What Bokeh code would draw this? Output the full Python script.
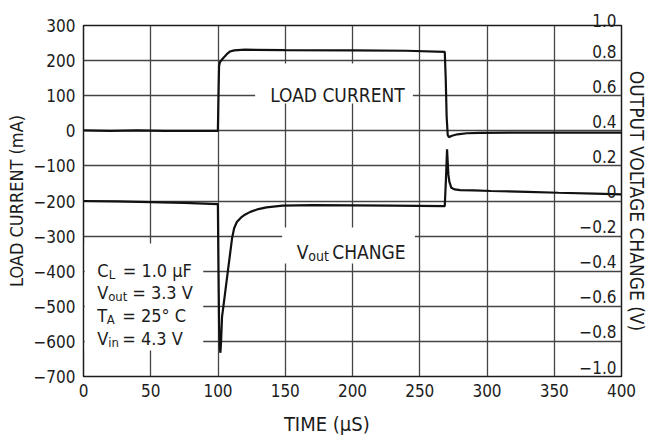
from bokeh.plotting import figure
from bokeh.models import (Range1d, FixedTicker, ColumnDataSource, LabelSet, Label,
                          BoxAnnotation, LinearAxis)
from bokeh.core.properties import value
from bokeh.embed import file_html
from bokeh.resources import INLINE

FONT = "DejaVu Sans Condensed"
INK = "#1c1c1c"

# ---- axes / ticks ----
x_ticks = [0, 50, 100, 150, 200, 250, 300, 350, 400]
y_ticks = [300, 200, 100, 0, -100, -200, -300, -400, -500, -600, -700]
y_tick_labels = ["300", "200", "100", "0", "\u2212100", "\u2212200", "\u2212300",
                 "\u2212400", "\u2212500", "\u2212600", "\u2212700"]
v_ticks = [1.0, 0.8, 0.6, 0.4, 0.2, 0.0, -0.2, -0.4, -0.6, -0.8, -1.0]
v_tick_labels = ["1.0", "0.8", "0.6", "0.4", "0.2", "0", "\u22120.2", "\u22120.4",
                 "\u22120.6", "\u22120.8", "\u22121.0"]

# ---- load current trace (time in us, current in mA) ----
load_t = [0, 20, 40, 60, 80, 99.9, 100.3, 100.8, 101.5, 103, 105, 107, 109, 112, 120,
          150, 200, 240, 268.6, 269.3, 270.0, 270.8, 271.6, 274, 278, 285, 295, 320, 360, 400]
load_ma = [1, 0, 1, 0, 0, 0, 90, 185, 196, 203, 212, 220, 226, 229, 231,
           230, 229, 228, 225, 150, 40, -12, -18, -14, -10, -7, -6, -5, -5, -5]

# ---- output voltage change trace (time in us, volts) ----
vout_t = [0, 25, 50, 75, 99.9, 100.3, 100.8, 101.3, 101.8, 102.3, 103, 105, 107, 109,
          110.5, 112, 114, 117, 120, 124, 130, 136, 148, 170, 200, 230, 268.6, 269.5,
          270.3, 270.8, 271.3, 272, 273.5, 276, 280, 290, 303, 330, 353, 380, 400]
vout_v = [0.0, -0.002, -0.006, -0.011, -0.018, -0.35, -0.7, -0.83, -0.865, -0.8, -0.66,
          -0.54, -0.42, -0.3, -0.21, -0.155, -0.12, -0.095, -0.078, -0.062, -0.046,
          -0.036, -0.026, -0.024, -0.025, -0.026, -0.029, 0.13, 0.295, 0.22, 0.15, 0.11,
          0.075, 0.066, 0.062, 0.06, 0.057, 0.052, 0.047, 0.042, 0.038]

p = figure(width=650, height=445, x_range=Range1d(0, 400), y_range=Range1d(-700, 300),
           output_backend="svg", toolbar_location=None,
           min_border_left=83, min_border_right=28, min_border_top=25, min_border_bottom=69)
p.extra_y_ranges = {"v": Range1d(-1.0, 1.0)}
p.background_fill_color = "white"
p.border_fill_color = "white"
p.outline_line_color = INK
p.outline_line_width = 1.5

# top-right "1.0" label sits above the frame: use the plot title slot
p.title.text = v_tick_labels[0]
p.title.align = "right"
p.title.offset = 5
p.title.standoff = -3
p.title.text_font = FONT
p.title.text_font_size = "17px"
p.title.text_font_style = "normal"
p.title.text_color = INK

# grids
p.xgrid.ticker = FixedTicker(ticks=x_ticks)
p.ygrid.ticker = FixedTicker(ticks=y_ticks)
for g in (p.xgrid, p.ygrid):
    g.grid_line_color = "#444444"
    g.grid_line_width = 1.3

# axes
for ax in (p.xaxis, p.yaxis):
    ax.axis_line_color = None
    ax.major_tick_out = 0
    ax.major_tick_in = 0
    ax.minor_tick_out = 0
    ax.minor_tick_in = 0
    ax.major_label_text_font = FONT
    ax.major_label_text_font_size = "17px"
    ax.major_label_text_color = INK
    ax.axis_label_text_font = FONT
    ax.axis_label_text_font_style = "normal"
    ax.axis_label_text_color = INK
p.xaxis.ticker = FixedTicker(ticks=x_ticks)
p.xaxis.major_label_standoff = 7
# the original's x title sits left of the frame centre: pad with no-break spaces
p.xaxis.axis_label = "TIME (\u00b5S)" + "\u00a0" * 9
p.xaxis.axis_label_text_font_size = "20px"
p.xaxis.axis_label_standoff = 12
p.yaxis.ticker = FixedTicker(ticks=y_ticks)
p.yaxis.major_label_overrides = dict(zip(y_ticks, y_tick_labels))
p.yaxis.major_label_standoff = 8
p.yaxis.axis_label = "LOAD CURRENT (mA)"
p.yaxis.axis_label_text_font_size = "18px"
p.yaxis.axis_label_standoff = 3

# right axis: title only (tick labels are drawn inside the frame)
raxis = LinearAxis(y_range_name="v", ticker=FixedTicker(ticks=[]),
                   axis_label="OUTPUT VOLTAGE CHANGE (V)")
raxis.axis_line_color = None
raxis.major_tick_out = 0
raxis.minor_tick_out = 0
raxis.axis_label_text_font = FONT
raxis.axis_label_text_font_size = "19px"
raxis.axis_label_text_font_style = "normal"
raxis.axis_label_text_color = INK
raxis.axis_label_standoff = 4
p.add_layout(raxis, "right")

# white boxes behind in-plot labels
p.add_layout(BoxAnnotation(left=127.6, right=244.9, top=191.7, bottom=77.8,
                           fill_color="white", fill_alpha=1.0, line_color=None))
p.add_layout(BoxAnnotation(left=147.7, right=246.4, top=-275.5, bottom=-378,
                           fill_color="white", fill_alpha=1.0, line_color=None))
p.add_layout(BoxAnnotation(left=0.9, right=89, top=-321, bottom=-626,
                           fill_color="white", fill_alpha=1.0, line_color=None))

# traces
p.line(load_t, load_ma, line_color="#111111", line_width=2.2)
p.line(vout_t, vout_v, y_range_name="v", line_color="#111111", line_width=2.2)

# right-hand tick labels (inside the frame, just above each gridline)
rsrc = ColumnDataSource(dict(x=[x_ticks[-1]] * (len(v_ticks) - 1), y=v_ticks[1:],
                             text=v_tick_labels[1:]))
p.add_layout(LabelSet(x="x", y="y", text="text", source=rsrc, y_range_name="v",
                      text_align="right", text_baseline="alphabetic",
                      x_offset=-5, y_offset=3, text_font=value(FONT),
                      text_font_size=value("17px"), text_color=INK))


def lab(x, y, text, size, dx=0, dy=0):
    p.add_layout(Label(x=x, y=y, text=text, x_offset=dx, y_offset=dy,
                       text_font=FONT, text_font_size=size, text_color=INK,
                       text_align="left", text_baseline="alphabetic"))


# in-plot annotations
lab(138.8, 103.4, "LOAD CURRENT", "19px")
lab(158.6, -345.9, "V", "19px")
lab(158.6, -345.9, "out", "14px", dx=11.5, dy=-4)
lab(158.6, -345.9, "CHANGE", "19px", dx=35.5)

lab(10.2, -398, "C", "18px")
lab(10.2, -398, "L", "13px", dx=11.5, dy=-4)
lab(10.2, -398, "= 1.0 \u00b5F", "18px", dx=25.5)

lab(10.2, -460, "V", "18px")
lab(10.2, -460, "out", "13px", dx=11, dy=-4)
lab(10.2, -460, "= 3.3 V", "18px", dx=35)

lab(10.2, -527, "T", "18px")
lab(10.2, -527, "A", "13px", dx=9.5, dy=-4)
lab(10.2, -527, "= 25\u00b0 C", "18px", dx=25)

lab(10.2, -593, "V", "18px")
lab(10.2, -593, "in", "13px", dx=11, dy=-4)
lab(10.2, -593, "= 4.3 V", "18px", dx=25)

open("out.html", "w").write(file_html(p, INLINE))
